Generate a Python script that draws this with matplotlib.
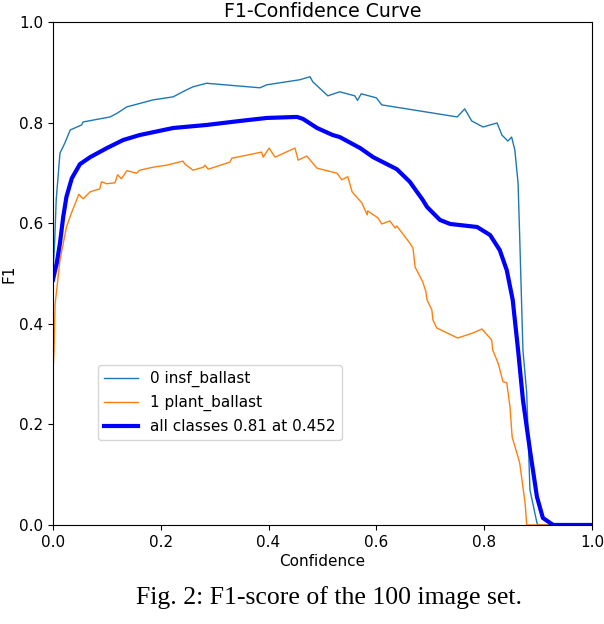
import matplotlib
matplotlib.use("Agg")
import matplotlib.pyplot as plt

# 0 insf_ballast
insf_conf = [0.000, 0.003, 0.006, 0.013, 0.022, 0.032, 0.053, 0.056, 0.106, 0.120,
             0.137, 0.186, 0.223, 0.248, 0.260, 0.285, 0.384, 0.397, 0.458, 0.477,
             0.482, 0.510, 0.532, 0.560, 0.565, 0.572, 0.600, 0.610, 0.750, 0.764,
             0.777, 0.798, 0.824, 0.833, 0.844, 0.851, 0.857, 0.863, 0.866, 0.872,
             0.879, 0.885, 0.898, 0.900, 1.000]
insf_f1 = [0.500, 0.560, 0.647, 0.740, 0.760, 0.786, 0.796, 0.802, 0.812, 0.820,
           0.832, 0.846, 0.852, 0.866, 0.872, 0.879, 0.870, 0.876, 0.886, 0.892,
           0.882, 0.854, 0.862, 0.854, 0.845, 0.858, 0.850, 0.836, 0.812, 0.828,
           0.804, 0.792, 0.800, 0.776, 0.764, 0.772, 0.746, 0.680, 0.573, 0.348,
           0.263, 0.070, 0.004, 0.000, 0.000]

# 1 plant_ballast
plant_conf = [0.000, 0.002, 0.004, 0.013, 0.025, 0.035, 0.044, 0.048, 0.056, 0.069,
              0.087, 0.090, 0.100, 0.115, 0.120, 0.127, 0.137, 0.155, 0.161, 0.186,
              0.211, 0.241, 0.245, 0.260, 0.279, 0.282, 0.288, 0.328, 0.332, 0.351,
              0.387, 0.390, 0.401, 0.412, 0.449, 0.455, 0.471, 0.490, 0.527, 0.536,
              0.547, 0.555, 0.573, 0.583, 0.584, 0.603, 0.610, 0.625, 0.635, 0.638,
              0.662, 0.668, 0.672, 0.686, 0.692, 0.694, 0.703, 0.705, 0.712, 0.751,
              0.779, 0.796, 0.814, 0.816, 0.826, 0.835, 0.842, 0.848, 0.852, 0.863,
              0.866, 0.876, 0.879, 1.000]
plant_f1 = [0.300, 0.348, 0.440, 0.527, 0.593, 0.623, 0.647, 0.658, 0.649, 0.663,
            0.669, 0.683, 0.679, 0.681, 0.697, 0.689, 0.705, 0.700, 0.706, 0.712,
            0.716, 0.724, 0.718, 0.706, 0.712, 0.716, 0.708, 0.722, 0.730, 0.734,
            0.742, 0.732, 0.750, 0.732, 0.750, 0.726, 0.734, 0.710, 0.700, 0.687,
            0.693, 0.663, 0.641, 0.617, 0.625, 0.611, 0.599, 0.605, 0.591, 0.595,
            0.561, 0.551, 0.513, 0.484, 0.464, 0.448, 0.428, 0.408, 0.392, 0.372,
            0.382, 0.390, 0.368, 0.348, 0.322, 0.285, 0.283, 0.235, 0.175, 0.135,
            0.123, 0.044, 0.000, 0.000]

# all classes
all_conf = [0.000, 0.007, 0.013, 0.019, 0.025, 0.035, 0.050, 0.069, 0.100, 0.130,
            0.161, 0.223, 0.285, 0.347, 0.397, 0.453, 0.464, 0.490, 0.519, 0.532,
            0.570, 0.594, 0.638, 0.662, 0.686, 0.694, 0.718, 0.737, 0.787, 0.811,
            0.829, 0.842, 0.853, 0.863, 0.872, 0.885, 0.898, 0.909, 0.928, 1.000]
all_f1 = [0.488, 0.521, 0.561, 0.613, 0.653, 0.690, 0.718, 0.732, 0.750, 0.766,
          0.776, 0.790, 0.796, 0.804, 0.810, 0.812, 0.808, 0.790, 0.776, 0.772,
          0.750, 0.732, 0.708, 0.683, 0.647, 0.633, 0.607, 0.599, 0.593, 0.577,
          0.547, 0.507, 0.448, 0.348, 0.249, 0.149, 0.056, 0.014, 0.000, 0.000]

labels = ["0 insf_ballast", "1 plant_ballast", "all classes 0.81 at 0.452"]
caption = "Fig. 2: F1-score of the 100 image set."


def main():
    fig = plt.figure(figsize=(6.04, 6.24), dpi=100)
    ax = fig.add_axes([0.0877, 0.1587, 0.8923, 0.8053])

    ax.plot(insf_conf, insf_f1, linewidth=1, label=labels[0])
    ax.plot(plant_conf, plant_f1, linewidth=1, label=labels[1])
    ax.plot(all_conf, all_f1, linewidth=3, color="blue", label=labels[2])

    ax.set_xlim(0, 1)
    ax.set_ylim(0, 1)
    ax.set_xlabel("Confidence", fontsize=11, labelpad=3)
    ax.set_ylabel("F1", fontsize=11, labelpad=2)
    ax.set_title("F1-Confidence Curve", fontsize=13.6, pad=4)
    ax.tick_params(labelsize=11)
    ax.legend(loc="upper left", bbox_to_anchor=(0.0835, 0.318), borderaxespad=0,
              fontsize=11, handlelength=2.2)

    fig.text(0.544, 0.042, caption, ha="center", va="center",
             family="Liberation Serif", fontsize=18.5)

    fig.savefig("out.png", dpi=100)
    plt.close(fig)


if __name__ == "__main__":
    main()
